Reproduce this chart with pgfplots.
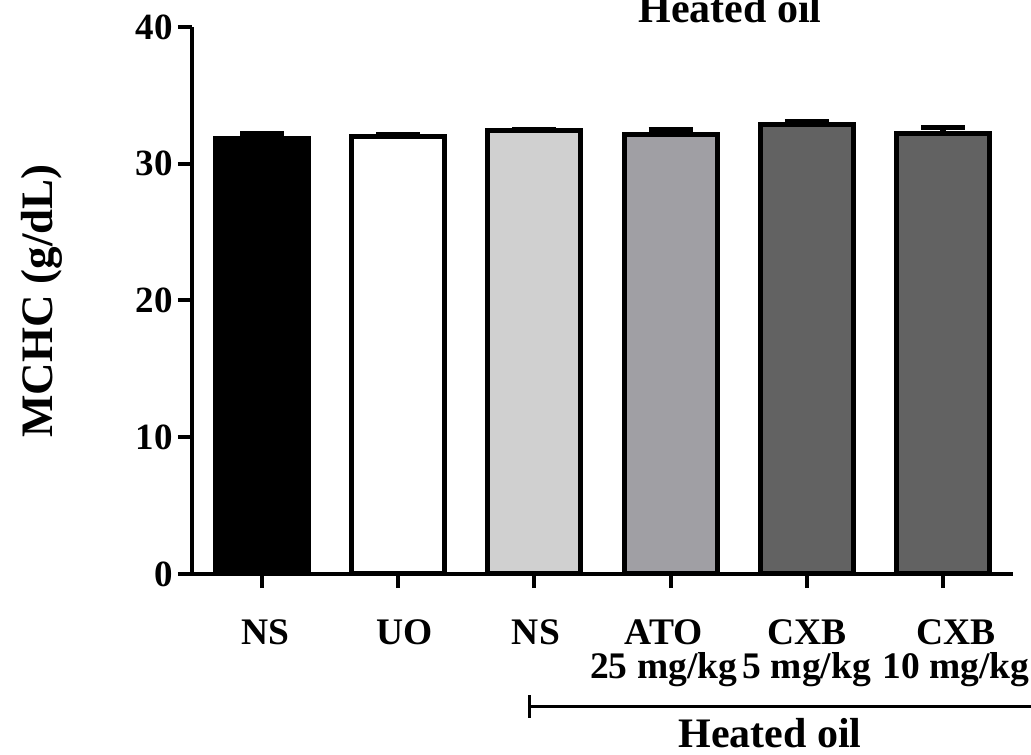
\documentclass[border=0pt]{standalone}
\usepackage{pgfplots}
\pgfplotsset{compat=1.18}
\usepackage{fontspec}
\setmainfont{Liberation Serif}
\definecolor{cLight}{RGB}{208,208,208}
\definecolor{cMid}{RGB}{160,159,164}
\definecolor{cDark}{RGB}{98,98,98}
\begin{document}
\begin{tikzpicture}[x=1pt,y=1pt]
\begin{axis}[
  at={(192pt,181pt)}, anchor=south west,
  scale only axis, width=821pt, height=547pt,
  xmin=-0.514, xmax=5.514, ymin=0, ymax=40,
  axis x line*=bottom, axis y line*=left,
  axis line style={line width=4.5pt, black},
  ytick={0,10,20,30,40},
  xtick={0,1,2,3,4,5},
  xticklabels={\hspace*{6pt}NS, \hspace*{12pt}UO, \hspace*{3pt}NS, \hspace*{-14pt}ATO\\\hspace*{-14pt}25 mg/kg, CXB\\5 mg/kg, \hspace*{26pt}CXB\\\hspace*{26pt}10 mg/kg},
  xticklabel style={align=center, font=\fontsize{37.5}{34}\selectfont\bfseries, anchor=north, inner sep=0pt, yshift=-31pt},
  yticklabel style={font=\fontsize{37}{37}\selectfont\bfseries, anchor=east, inner sep=0pt, xshift=-5pt},
  /pgf/number format/assume math mode=true,
  tick align=outside, major tick length=14pt,
  tick style={line width=4pt, black},
  axis on top,
  ybar, bar width=93pt,
  clip=false,
  error bars/y dir=plus, error bars/y explicit,
  error bars/error bar style={line width=5pt, black},
  error bars/error mark options={line width=5pt, mark size=22pt, black, rotate=90},
]
\addplot[bar shift=0pt, fill=black, draw=black, line width=5pt] coordinates {(0,31.85) +- (0,0.38)};
\addplot[bar shift=0pt, fill=white, draw=black, line width=5pt] coordinates {(1,31.97) +- (0,0.17)};
\addplot[bar shift=0pt, fill=cLight, draw=black, line width=5pt] coordinates {(2,32.41) +- (0,0.11)};
\addplot[bar shift=0pt, fill=cMid, draw=black, line width=5pt] coordinates {(3,32.12) +- (0,0.40)};
\addplot[bar shift=0pt, fill=cDark, draw=black, line width=5pt] coordinates {(4,32.89) +- (0,0.18)};
\addplot[bar shift=0pt, fill=cDark, draw=black, line width=5pt] coordinates {(5,32.23) +- (0,0.42)};
\end{axis}
\node[font=\fontsize{45}{45}\selectfont\bfseries, rotate=90, anchor=base, inner sep=0pt] at (53pt,454pt) {MCHC (g/dL)};
\node[font=\fontsize{42}{42}\selectfont\bfseries, anchor=base, inner sep=0pt] at (730pt,732pt) {Heated oil};
\node[font=\fontsize{42}{42}\selectfont\bfseries, anchor=base, inner sep=0pt] at (770pt,7pt) {Heated oil};
\draw[line width=3pt] (529pt,48pt) -- (1045pt,48pt);
\draw[line width=3pt] (529pt,37pt) -- (529pt,60pt);
\pgfresetboundingbox
\path[use as bounding box] (0pt,0pt) rectangle (1031pt,755pt);
\end{tikzpicture}
\end{document}
